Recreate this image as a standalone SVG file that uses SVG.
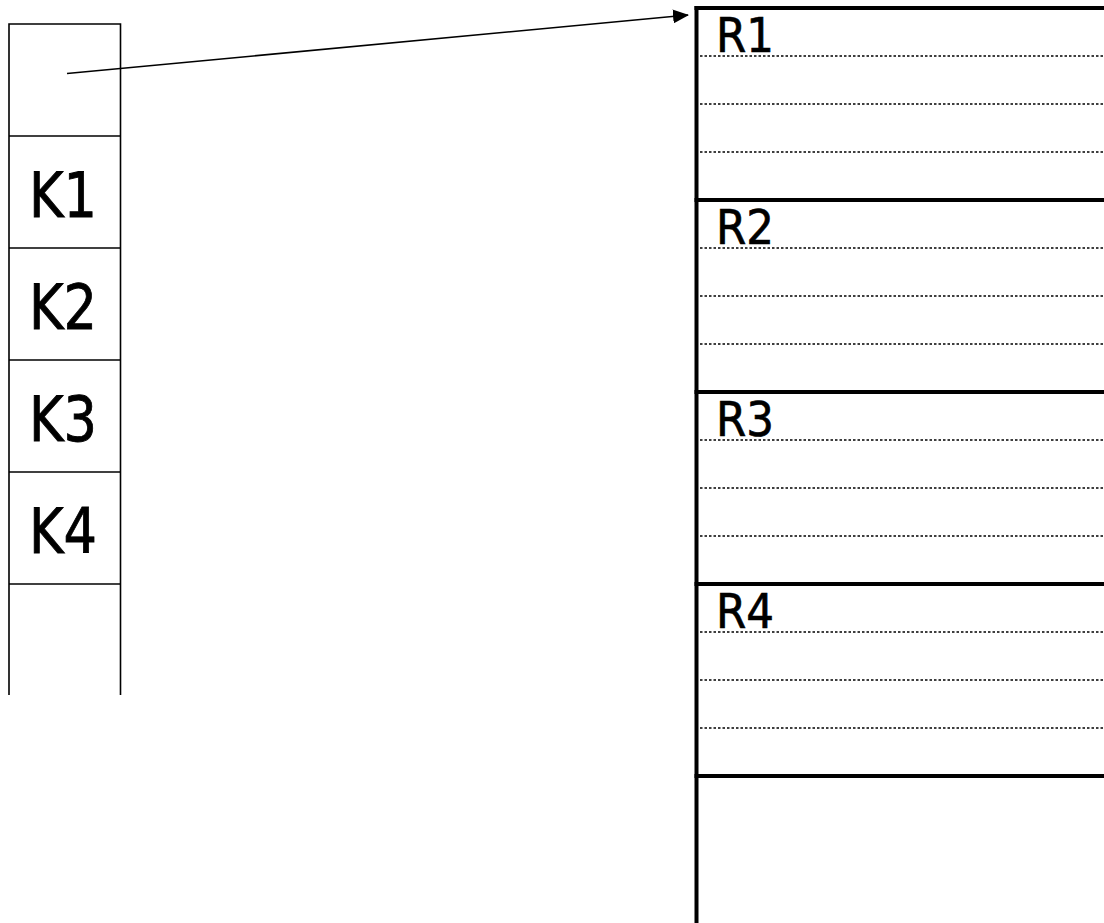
<svg xmlns="http://www.w3.org/2000/svg" width="1104" height="923" viewBox="0 0 1104 923">
<style>
.cell{fill:none;stroke:#000;stroke-width:1.6}
.k{font-family:"DejaVu Sans","Liberation Sans",sans-serif;font-size:63px;fill:#000;stroke:#000;stroke-width:0.9}
.r{font-family:"DejaVu Sans","Liberation Sans",sans-serif;font-size:48px;fill:#000;stroke:#000;stroke-width:0.7}
.thick{stroke:#000;stroke-width:4;fill:none}
.dot{stroke:#000;stroke-width:1.5;stroke-dasharray:2.5 2;fill:none}
</style>
<defs>
<marker id="ah" markerWidth="16" markerHeight="14" refX="15" refY="7" orient="auto" markerUnits="userSpaceOnUse">
<path d="M0,0 L16,7 L0,14 Z" fill="#000"/>
</marker>
</defs>
<g id="keys">
<g id="k0"><path class="cell" d="M9,695 V24 H120.5 V695"/></g>
<g id="k1"><line class="cell" x1="9" y1="136" x2="120.5" y2="136"/><text class="k" x="29" y="217" textLength="68" lengthAdjust="spacingAndGlyphs">K1</text></g>
<g id="k2"><line class="cell" x1="9" y1="248" x2="120.5" y2="248"/><text class="k" x="29" y="329" textLength="68" lengthAdjust="spacingAndGlyphs">K2</text></g>
<g id="k3"><line class="cell" x1="9" y1="360" x2="120.5" y2="360"/><text class="k" x="29" y="441" textLength="68" lengthAdjust="spacingAndGlyphs">K3</text></g>
<g id="k4"><line class="cell" x1="9" y1="472" x2="120.5" y2="472"/><text class="k" x="29" y="553" textLength="68" lengthAdjust="spacingAndGlyphs">K4</text></g>
<g id="k5"><line class="cell" x1="9" y1="584" x2="120.5" y2="584"/></g>
</g>
<g id="records">
<line class="thick" x1="696.5" y1="6" x2="696.5" y2="923"/>
<g id="r1"><line class="thick" x1="694.5" y1="8" x2="1104" y2="8"/><text class="r" x="716" y="52" textLength="58" lengthAdjust="spacingAndGlyphs">R1</text>
<line class="dot" x1="700" y1="56" x2="1104" y2="56"/><line class="dot" x1="700" y1="104" x2="1104" y2="104"/><line class="dot" x1="700" y1="152" x2="1104" y2="152"/></g>
<g id="r2"><line class="thick" x1="694.5" y1="200" x2="1104" y2="200"/><text class="r" x="716" y="244" textLength="58" lengthAdjust="spacingAndGlyphs">R2</text>
<line class="dot" x1="700" y1="248" x2="1104" y2="248"/><line class="dot" x1="700" y1="296" x2="1104" y2="296"/><line class="dot" x1="700" y1="344" x2="1104" y2="344"/></g>
<g id="r3"><line class="thick" x1="694.5" y1="392" x2="1104" y2="392"/><text class="r" x="716" y="436" textLength="58" lengthAdjust="spacingAndGlyphs">R3</text>
<line class="dot" x1="700" y1="440" x2="1104" y2="440"/><line class="dot" x1="700" y1="488" x2="1104" y2="488"/><line class="dot" x1="700" y1="536" x2="1104" y2="536"/></g>
<g id="r4"><line class="thick" x1="694.5" y1="584" x2="1104" y2="584"/><text class="r" x="716" y="628" textLength="58" lengthAdjust="spacingAndGlyphs">R4</text>
<line class="dot" x1="700" y1="632" x2="1104" y2="632"/><line class="dot" x1="700" y1="680" x2="1104" y2="680"/><line class="dot" x1="700" y1="728" x2="1104" y2="728"/></g>
<g id="r5"><line class="thick" x1="694.5" y1="776" x2="1104" y2="776"/></g>
</g>
<g id="connectors">
<line x1="67" y1="73.5" x2="688" y2="15" stroke="#000" stroke-width="1.6" marker-end="url(#ah)"/>
</g>
</svg>
